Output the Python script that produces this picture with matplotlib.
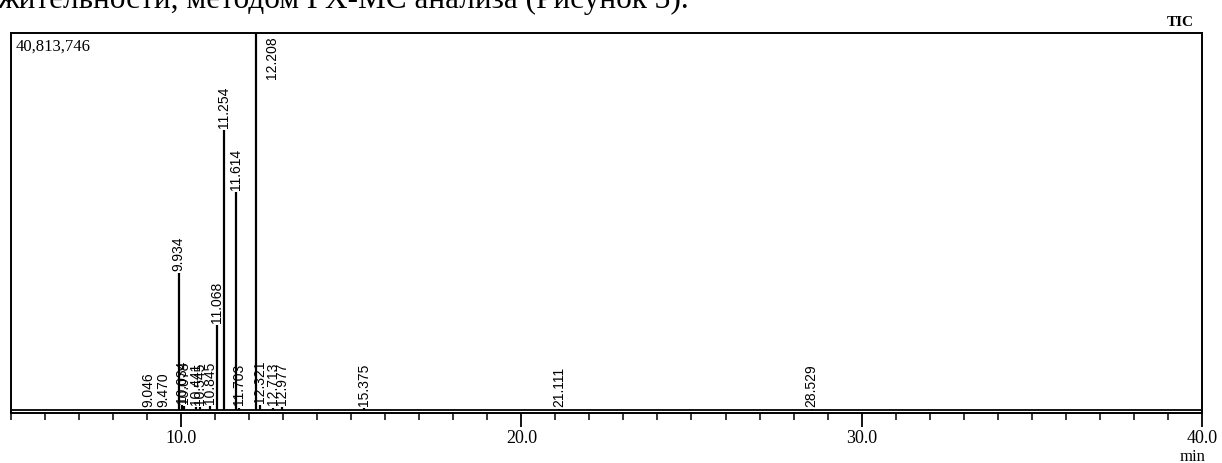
import matplotlib
matplotlib.use("Agg")
from matplotlib import pyplot as plt
from matplotlib.ticker import MultipleLocator

# retention time (min) and relative intensity (fraction of max)
rt = [9.046, 9.470, 9.934, 10.034, 10.078, 10.441, 10.545, 10.845, 11.068,
      11.254, 11.614, 11.703, 12.208, 12.321, 12.713, 12.977, 15.375,
      21.111, 28.529]
height = [0.002, 0.002, 0.363, 0.012, 0.010, 0.008, 0.008, 0.010, 0.225,
          0.743, 0.578, 0.006, 1.0, 0.012, 0.006, 0.008, 0.004,
          0.003, 0.003]
peak_labels = ["9.046", "9.470", "9.934", "10.034", "10.078", "10.441",
               "10.545", "10.845", "11.068", "11.254", "11.614", "11.703",
               "12.208", "12.321", "12.713", "12.977", "15.375", "21.111",
               "28.529"]
max_count = "40,813,746"
xticks_major = [10, 20, 30, 40]

serif = "Liberation Serif"
sans = "Liberation Sans"

fig = plt.figure(figsize=(12.22, 4.63), dpi=100)
ax = fig.add_axes([0.009, 0.108, 0.9745, 0.8205])

ax.axhline(0, color="black", lw=1.3)
ax.vlines(rt, 0, height, color="black", lw=1.6)

for x, h, lab in zip(rt, height, peak_labels):
    if h > 0.95:
        # tallest peak: label sits beside it at the top
        ax.text(x + 0.45, 0.99, lab, rotation=90, ha="center", va="top",
                fontsize=10, family=sans)
    else:
        ax.text(x, h + 0.006, lab, rotation=90, ha="center", va="bottom",
                fontsize=10, family=sans)

ax.set_xlim(5, 40)
ax.set_ylim(-0.008, 1.0)
ax.set_yticks([])
ax.set_xticks(xticks_major)
ax.set_xticklabels([f"{v:.1f}" for v in xticks_major], family=serif,
                   fontsize=13)
ax.xaxis.set_minor_locator(MultipleLocator(1))
ax.tick_params(axis="x", which="major", length=10, width=1.3, pad=2)
ax.tick_params(axis="x", which="minor", length=5, width=1.1)
for s in ax.spines.values():
    s.set_linewidth(1.4)

ax.text(0.004, 0.985, max_count, transform=ax.transAxes, ha="left", va="top",
        family=serif, fontsize=12)
fig.text(0.966, 0.952, "TIC", ha="center", va="center", family=serif,
         fontsize=11, fontweight="semibold")
fig.text(0.976, 0.013, "min", ha="center", va="center", family=serif,
         fontsize=12)
fig.text(-0.002, 1 - 8 / 463, "жительности, методом ГХ-МС анализа (Рисунок 3).",
         ha="left", va="baseline", family=serif, fontsize=22.5)

fig.savefig("out.png", dpi=100)
